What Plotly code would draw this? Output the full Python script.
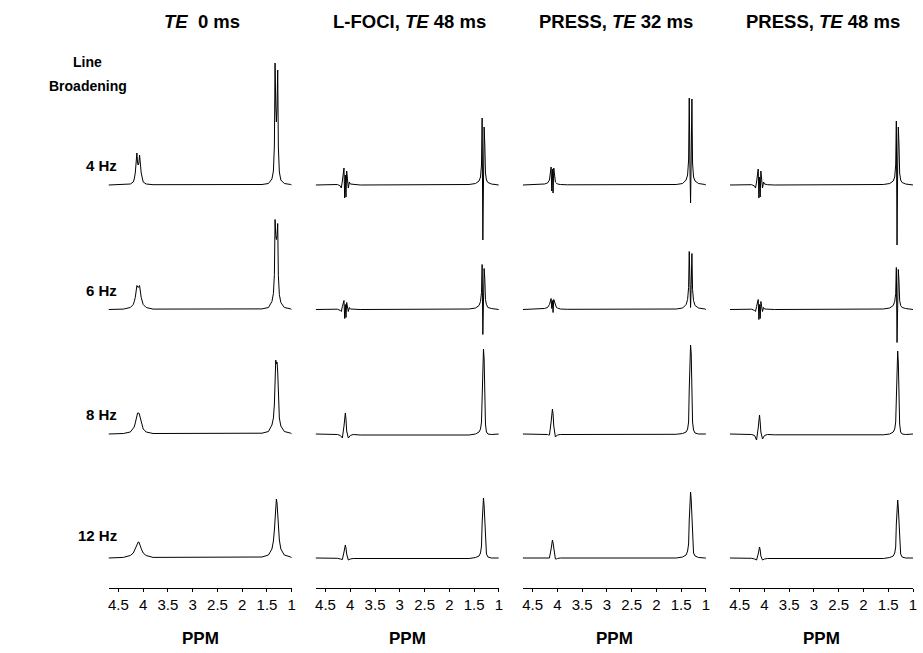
import plotly.graph_objects as go

# Column headings and row labels
TITLES = ["<i>TE</i>  0 ms", "L-FOCI, <i>TE</i> 48 ms", "PRESS, <i>TE</i> 32 ms", "PRESS, <i>TE</i> 48 ms"]
BROADENING = ["4 Hz", "6 Hz", "8 Hz", "12 Hz"]
TICK_VALS = [4.5, 4, 3.5, 3, 2.5, 2, 1.5, 1]
TICK_TEXT = ["4.5", "4", "3.5", "3", "2.5", "2", "1.5", "1"]

# Chemical-shift sampling of the two lactate multiplets (ppm)
Q_PPM = [4.40, 4.26, 4.20, 4.181, 4.16, 4.127, 4.113, 4.10, 4.087, 4.073, 4.04, 4.019, 4.00, 3.94, 3.80]
D_PPM = [1.60, 1.47, 1.40, 1.37, 1.35, 1.337, 1.323, 1.31, 1.297, 1.283, 1.27, 1.25, 1.22, 1.15, 1.02]
PPM_START, PPM_END = 4.70, 1.00

# Signal intensity (a.u.) on Q_PPM / D_PPM, one row per line broadening (4, 6, 8, 12 Hz)
Q_TE0 = [
    [0.3, 1, 3, 6, 12, 32, 22, 20, 22, 30, 12, 6, 3, 1, 0.3],
    [0.4, 2, 5, 8, 12, 24, 23, 22, 23, 24, 12, 8, 5, 2, 0.4],
    [0.5, 2, 5, 7, 11, 19, 21, 21, 21, 19, 11, 7, 5, 2, 0.5],
    [0.6, 2.5, 5, 7, 9.5, 14.5, 16, 16, 16, 14.5, 9.5, 7, 5, 2.5, 0.6],
]
D_TE0 = [
    [0.5, 1.5, 6, 14, 40, 122, 80, 63, 78, 115, 38, 13, 5, 1.5, 0.5],
    [0.6, 2, 8, 16, 35, 90, 75, 70, 74, 86, 34, 15, 7, 2, 0.6],
    [0.8, 2.5, 9, 16, 30, 65, 74, 70, 72, 62, 30, 16, 8, 2.5, 0.8],
    [1, 3, 9, 17, 28, 42, 54, 59, 55, 44, 30, 18, 9, 3, 1],
]
Q_LFOCI48 = [
    [0, 0.5, -1, -3, 4, 17, -13, 10, -12, 14, -3, 3, 1, 0.5, 0],
    [0, 0.3, -1, -2, 3, 9, -9, 5, -8, 7, -2, 2, 0.5, 0.3, 0],
    [0, -0.5, -1.5, -2.5, -4, 8, 18, 21, 15, 3, -4, -2.5, -1.5, -0.5, -1],
    [0, -0.3, -1, -1.5, -1.5, 6, 11, 13, 10, 4, -2, -1.5, -1, -0.5, -0.5],
]
D_LFOCI48 = [
    [0.5, 1.5, 4, 8, 20, 67, -55, 20, 58, 40, 12, 5, 2.5, 1, 0.3],
    [0.5, 1.5, 4, 8, 17, 45, -25, 20, 41, 30, 10, 5, 2, 1, 0.3],
    [-1, 0, 2, 5, 12, 50, 80, 85, 75, 40, 10, 2, 0, -0.5, 0],
    [-0.5, 0.5, 2, 5, 12, 35, 53, 60, 52, 33, 12, 4, 1, 0, 0],
]
Q_PRESS32 = [
    [0.3, 1, 2, 3, 5, 18, -6, 16, -8, 17, 3, 2, 1, 0.5, 0.2],
    [0.3, 1, 2, 3, 5, 11, 1, 9, -3, 10, 4, 2, 1.5, 0.5, 0.2],
    [0, 0, -0.5, -1, -1, 12, 22, 25, 20, 8, -3, -2, -1, -0.5, -0.5],
    [0, 0, -0.5, -0.5, 0, 9, 15, 18, 15, 8, -1, -1, -0.5, 0, 0],
]
D_PRESS32 = [
    [0.5, 1.5, 5, 10, 25, 87, 20, -18, 30, 86, 22, 8, 4, 1.5, 0.5],
    [0.5, 1.5, 5, 10, 22, 58, 25, 2, 25, 56, 20, 9, 4, 1.5, 0.5],
    [-0.3, 0.5, 2, 5, 12, 45, 80, 89, 80, 45, 12, 4, 1, 0, 0],
    [0, 1, 3, 7, 14, 38, 58, 66, 58, 38, 14, 5, 2, 0.5, 0],
]
Q_PRESS48 = [
    [0, 0.3, -1, -3, 3, 16, -13, 8, -12, 14, -3, 3, 1, 0.3, 0],
    [0, 0.3, -1, -2, 3, 10, -10, 5, -9, 8, -2, 2, 0.5, 0.3, 0],
    [0, -0.5, -1.5, -3, -6, 6, 17, 19, 12, 2, -5, -3, -1.5, -0.5, -0.8],
    [0, -0.3, -1, -1.5, -2, 4, 9, 11, 8, 2, -2, -1.5, -1, -0.5, -0.5],
]
D_PRESS48 = [
    [0.5, 1.5, 4, 8, 20, 64, -60, 20, 58, 40, 12, 5, 2.5, 1, 0.3],
    [0.5, 1.5, 4, 8, 16, 42, -33, 18, 40, 28, 9, 4, 2, 1, 0.3],
    [-0.8, 0, 2, 5, 12, 48, 78, 83, 72, 38, 10, 2, 0, -0.5, 0],
    [-0.5, 0.5, 2, 5, 11, 34, 51, 58, 50, 32, 11, 4, 1, 0, 0],
]

COLUMNS = [(Q_TE0, D_TE0), (Q_LFOCI48, D_LFOCI48), (Q_PRESS32, D_PRESS32), (Q_PRESS48, D_PRESS48)]

# Layout geometry (pixels of a 923 x 653 page)
W, H = 923, 653
PANEL_LEFT = [109, 317, 525, 733]
PANEL_WIDTH = 184
AXIS_Y = 588
ROW_BASE = [185, 309.5, 434, 558]
ROW_LABEL_Y = [165, 290, 415, 535]
FONT = "Liberation Sans, Arial"

fig = go.Figure()
x_ppm = [PPM_START] + Q_PPM + D_PPM + [PPM_END]
for c, (q_rows, d_rows) in enumerate(COLUMNS):
    xa = "x" if c == 0 else f"x{c + 1}"
    for r in range(4):
        offset = AXIS_Y - ROW_BASE[r]
        y = [offset] + [offset + v for v in q_rows[r]] + [offset + v for v in d_rows[r]] + [offset]
        fig.add_trace(go.Scatter(
            x=x_ppm, y=y, mode="lines", xaxis=xa, yaxis="y",
            line=dict(color="black", width=1), showlegend=False, hoverinfo="skip",
        ))

axis_style = dict(
    range=[PPM_START, PPM_END], tickvals=TICK_VALS, ticktext=TICK_TEXT,
    showline=True, linecolor="black", linewidth=1, ticks="outside", ticklen=3,
    tickcolor="black", tickwidth=1, showgrid=False, zeroline=False,
    tickfont=dict(family=FONT, size=15, color="black"),
    anchor="y", fixedrange=True,
)
layout_axes = {}
for c in range(4):
    key = "xaxis" if c == 0 else f"xaxis{c + 1}"
    layout_axes[key] = dict(
        domain=[PANEL_LEFT[c] / W, (PANEL_LEFT[c] + PANEL_WIDTH) / W], **axis_style
    )


def label(text, px, py, size, anchor="center"):
    return dict(text=text, x=px / W, y=1 - py / H, xref="paper", yref="paper",
                showarrow=False, xanchor=anchor, yanchor="middle", borderpad=0,
                font=dict(family=FONT, size=size, color="black"))


annotations = []
for c, t in enumerate(TITLES):
    cx = PANEL_LEFT[c] + PANEL_WIDTH / 2
    annotations.append(label(f"<b>{t}</b>", cx + 2, 22, 18.5))
    annotations.append(label("<b>PPM</b>", cx, 638, 17))
annotations.append(label("<b>Line</b>", 88, 62, 14))
annotations.append(label("<b>Broadening</b>", 88, 86, 14))
for r, lbl in enumerate(BROADENING):
    annotations.append(label(f"<b>{lbl}</b>", 119, ROW_LABEL_Y[r], 15, anchor="right"))

fig.update_layout(
    width=W, height=H,
    margin=dict(l=0, r=0, t=0, b=0),
    paper_bgcolor="white", plot_bgcolor="white",
    yaxis=dict(domain=[1 - AXIS_Y / H, 1], range=[0, AXIS_Y], visible=False, fixedrange=True),
    annotations=annotations,
    **layout_axes,
)

fig.write_html("out.html", config={"displayModeBar": False})
